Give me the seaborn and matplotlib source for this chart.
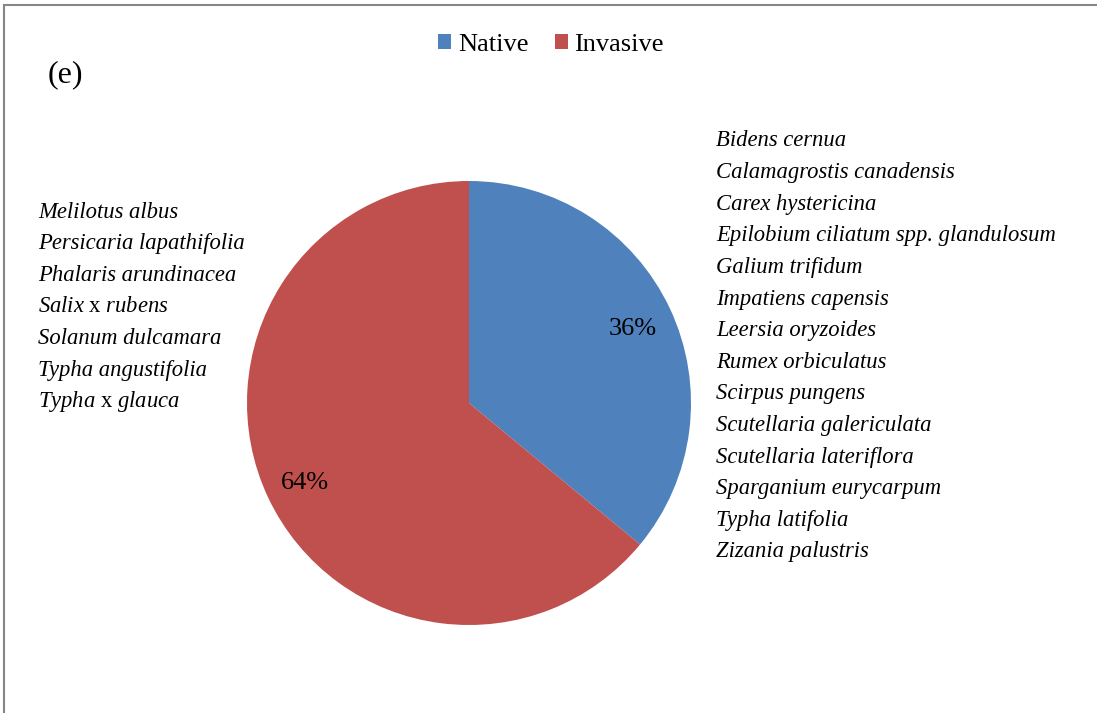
import matplotlib
matplotlib.use("Agg")
import matplotlib.pyplot as plt
from matplotlib.lines import Line2D
import seaborn as sns

# Share of native vs invasive species
groups = ["Native", "Invasive"]
shares = [36, 64]
colors = ["#4F81BD", "#C0504D"]

native_species = [
    "Bidens cernua",
    "Calamagrostis canadensis",
    "Carex hystericina",
    "Epilobium ciliatum spp. glandulosum",
    "Galium trifidum",
    "Impatiens capensis",
    "Leersia oryzoides",
    "Rumex orbiculatus",
    "Scirpus pungens",
    "Scutellaria galericulata",
    "Scutellaria lateriflora",
    "Sparganium eurycarpum",
    "Typha latifolia",
    "Zizania palustris",
]
invasive_species = [
    "Melilotus albus",
    "Persicaria lapathifolia",
    "Phalaris arundinacea",
    r"Salix $\mathrm{x}$ rubens",
    "Solanum dulcamara",
    "Typha angustifolia",
    r"Typha $\mathrm{x}$ glauca",
]

sns.set_theme(style="white")
plt.rcParams["font.family"] = ["Liberation Serif", "DejaVu Serif"]
plt.rcParams["text.color"] = "black"
plt.rcParams["mathtext.fontset"] = "custom"
plt.rcParams["mathtext.rm"] = "Liberation Serif"
plt.rcParams["mathtext.it"] = "Liberation Serif:italic"

W, H = 1097, 713
fig = plt.figure(figsize=(W / 100, H / 100), dpi=100)
fig.patch.set_facecolor("white")

# pie axes: centre (469, 403) px, radius 222 px
cx, cy, r = 469, 403, 222
ax = fig.add_axes([(cx - r) / W, (H - cy - r) / H, 2 * r / W, 2 * r / H])
wedges, _, autotexts = ax.pie(
    shares,
    colors=colors,
    startangle=90,
    counterclock=False,
    autopct=lambda p: f"{p:.0f}%",
    pctdistance=0.815,
    textprops={"fontsize": 19, "color": "black"},
    wedgeprops={"linewidth": 0},
)
for t in autotexts:
    x, y = t.get_position()
    t.set_position((x, y - 0.012))
ax.set_aspect("equal")
ax.set_xlim(-1, 1)
ax.set_ylim(-1, 1)
ax.axis("off")

# legend at top
leg = fig.legend(
    wedges, groups,
    loc="center", bbox_to_anchor=(551 / W, 1 - 45 / H),
    ncol=2, frameon=False, fontsize=19,
    handlelength=0.5, handleheight=0.5, handletextpad=0.25,
    columnspacing=1.0,
)
for t in leg.get_texts():
    t.set_color("black")

# panel tag
fig.text(48 / W, 1 - 75 / H, "(e)", fontsize=23, va="center", ha="left")

# species lists
step = 31.6
for i, name in enumerate(native_species):
    fig.text(716 / W, 1 - (141 + i * step) / H, name, fontsize=16.3,
             style="italic", va="center", ha="left")
for i, name in enumerate(invasive_species):
    fig.text(38 / W, 1 - (212 + i * step) / H, name, fontsize=16.3,
             style="italic", va="center", ha="left")

# chart-area border
border = "#868686"
fig.add_artist(Line2D([4 / W, 1], [1 - 5 / H, 1 - 5 / H], color=border,
                      lw=1.5, transform=fig.transFigure))
fig.add_artist(Line2D([4 / W, 4 / W], [0, 1 - 5 / H], color=border,
                      lw=1.5, transform=fig.transFigure))

fig.savefig("out.png", dpi=100)
